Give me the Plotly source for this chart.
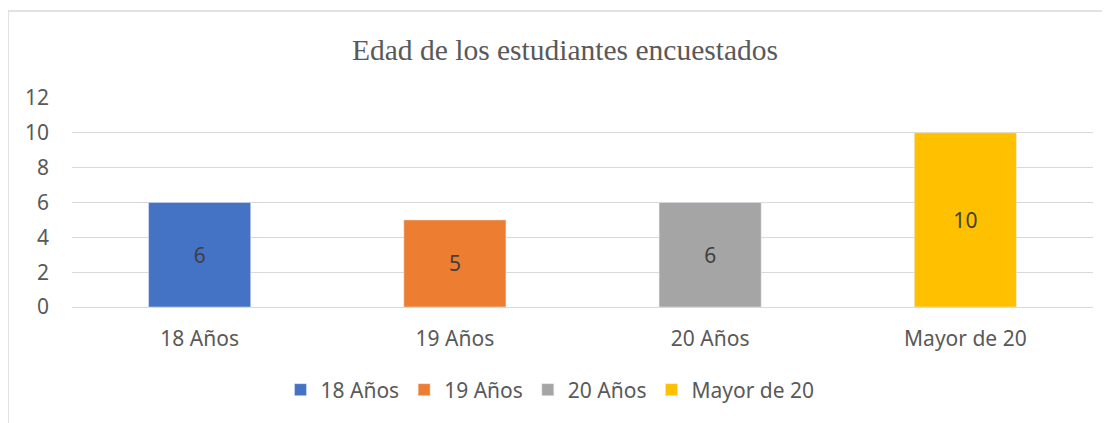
import plotly.graph_objects as go

categories = ["18 Años", "19 Años", "20 Años", "Mayor de 20"]
values = [6, 5, 6, 10]
colors = ["#4472C4", "#ED7D31", "#A5A5A5", "#FFC000"]
title = "Edad de los estudiantes encuestados"

# page has an 8px body margin; figure coords = page coords - 8
W, H = 1102, 415
L, R, T, B = 64, 17, 90, 116
pw, ph = W - L - R, H - T - B

font_fam = "Noto Sans"
fs = 21

fig = go.Figure()
for c, v, col in zip(categories, values, colors):
    fig.add_trace(go.Bar(
        x=[c], y=[v], name=c, marker_color=col, width=0.4,
        text=[str(v)], textposition="inside", insidetextanchor="middle",
        textfont=dict(family=font_fam, size=fs, color="#404040"),
        hoverinfo="x+y",
    ))

fig.update_layout(
    width=W, height=H,
    margin=dict(l=L, r=R, t=T, b=B),
    paper_bgcolor="white", plot_bgcolor="white",
    barmode="overlay",
    title=dict(text=title, x=557 / W, xanchor="center", xref="container",
               y=1 - 42 / H, yanchor="middle", yref="container",
               font=dict(family="Liberation Serif", size=29.5, color="#595959")),
    xaxis=dict(categoryorder="array", categoryarray=categories,
               showgrid=False, showline=False, zeroline=False,
               tickfont=dict(family=font_fam, size=fs, color="#595959"),
               ticklabelstandoff=17, fixedrange=True),
    yaxis=dict(range=[0, 12], dtick=2, showgrid=True, gridcolor="#d9d9d9",
               gridwidth=1, zeroline=True, zerolinecolor="#d9d9d9", zerolinewidth=1,
               showline=False,
               tickfont=dict(family=font_fam, size=fs, color="#595959"),
               ticklabelstandoff=22, fixedrange=True),
    legend=dict(orientation="h", x=(542 - L) / pw, xanchor="center",
                y=(ph - (382 - T)) / ph, yanchor="middle",
                font=dict(family=font_fam, size=fs, color="#595959"),
                itemwidth=30, traceorder="normal"),
    showlegend=True,
)

fig.add_shape(type="rect", xref="paper", yref="paper",
              x0=(0 - L) / pw, x1=(W + 20 - L) / pw,
              y0=-2, y1=(H - B - 3) / ph,
              line=dict(color="#d9d9d9", width=1.5), fillcolor="rgba(0,0,0,0)", layer="below")

fig.write_html("out.html")
